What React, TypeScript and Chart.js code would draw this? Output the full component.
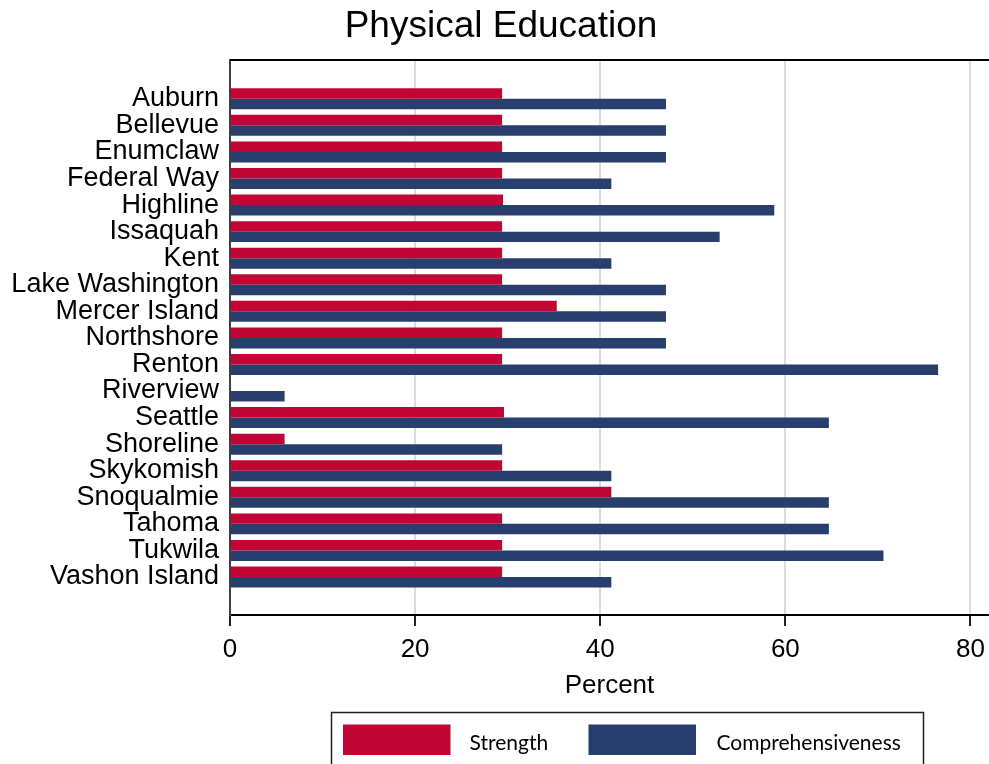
import React, { useEffect, useRef } from "react";
import { Chart, registerables } from "chart.js";

Chart.register(...registerables);

const categories = [
  "Auburn",
  "Bellevue",
  "Enumclaw",
  "Federal Way",
  "Highline",
  "Issaquah",
  "Kent",
  "Lake Washington",
  "Mercer Island",
  "Northshore",
  "Renton",
  "Riverview",
  "Seattle",
  "Shoreline",
  "Skykomish",
  "Snoqualmie",
  "Tahoma",
  "Tukwila",
  "Vashon Island",
];

const strength = [29.4, 29.4, 29.4, 29.4, 29.5, 29.4, 29.4, 29.4, 35.3, 29.4, 29.4, 0, 29.6, 5.9, 29.4, 41.2, 29.4, 29.4, 29.4];
const comprehensiveness = [47.1, 47.1, 47.1, 41.2, 58.8, 52.9, 41.2, 47.1, 47.1, 47.1, 76.5, 5.9, 64.7, 29.4, 41.2, 64.7, 64.7, 70.6, 41.2];

const xTicks = [0, 20, 40, 60, 80];
const seriesNames = ["Strength", "Comprehensiveness"];
const titleText = "Physical Education";
const xTitle = "Percent";

const RED = "#C10534";
const BLUE = "#283F6E";
const FONT = "'Liberation Sans', Arial, sans-serif";

const decorPlugin = {
  id: "decor",
  afterDraw(chart: any) {
    const { ctx, chartArea } = chart;
    ctx.save();
    // top border of plot
    ctx.strokeStyle = "#000";
    ctx.lineWidth = 2;
    ctx.beginPath();
    ctx.moveTo(chartArea.left, chartArea.top);
    ctx.lineTo(chartArea.right, chartArea.top);
    ctx.stroke();

    // title
    ctx.fillStyle = "#000";
    ctx.font = `37px ${FONT}`;
    ctx.textAlign = "center";
    ctx.textBaseline = "middle";
    ctx.fillText(titleText, 501, 27);

    // legend box
    ctx.strokeStyle = "#222";
    ctx.lineWidth = 1.5;
    ctx.strokeRect(331.5, 712.5, 592, 70);
    const colors = [RED, BLUE];
    const swX = [343, 588.5];
    const txX = [469.5, 716.5];
    ctx.font = `21px Lato, 'Open Sans', sans-serif`;
    ctx.textAlign = "left";
    ctx.textBaseline = "alphabetic";
    for (let i = 0; i < 2; i++) {
      ctx.fillStyle = colors[i];
      ctx.fillRect(swX[i], 724.5, 107.5, 30.5);
      ctx.fillStyle = "#000";
      ctx.fillText(seriesNames[i], txX[i], 749.5);
    }
    ctx.restore();
  },
};

export default function App() {
  const canvasRef = useRef<HTMLCanvasElement | null>(null);

  useEffect(() => {
    if (!canvasRef.current) return;
    const chart = new Chart(canvasRef.current, {
      type: "bar",
      data: {
        labels: categories.map((_, i) => i),
        datasets: [
          {
            label: seriesNames[0],
            data: strength,
            backgroundColor: RED,
            borderWidth: 0,
            categoryPercentage: 0.79,
            barPercentage: 1.0,
          },
          {
            label: seriesNames[1],
            data: comprehensiveness,
            backgroundColor: BLUE,
            borderWidth: 0,
            categoryPercentage: 0.79,
            barPercentage: 1.0,
          },
        ],
      },
      options: {
        indexAxis: "y",
        responsive: false,
        animation: false,
        layout: { padding: { top: 60, left: 0, right: 0, bottom: 61 } },
        plugins: {
          legend: { display: false },
          title: { display: false },
          tooltip: { enabled: false },
        },
        scales: {
          x: {
            type: "linear",
            min: 0,
            max: 82,
            afterBuildTicks: (scale: any) => {
              scale.ticks = xTicks.map((v) => ({ value: v }));
            },
            afterFit: (scale: any) => {
              scale.height = 88;
              scale.paddingRight = 0;
              scale.paddingLeft = 0;
            },
            grid: {
              color: "#DCDCDC",
              lineWidth: 2,
              drawTicks: true,
              tickLength: 11,
              tickColor: "#222",
              tickWidth: 2,
            },
            border: { display: true, color: "#000", width: 2 },
            ticks: {
              color: "#000",
              font: { family: FONT, size: 26 },
              padding: 8,
              maxRotation: 0,
            },
            title: {
              display: true,
              text: xTitle,
              color: "#000",
              font: { family: FONT, size: 26 },
              padding: { top: 4, bottom: 2 },
            },
          },
          y: {
            type: "linear",
            reverse: true,
            min: -1.46,
            max: 19.43,
            offset: false,
            afterBuildTicks: (scale: any) => {
              scale.ticks = categories.map((_, i) => ({ value: i }));
            },
            afterFit: (scale: any) => {
              scale.width = 230;
            },
            grid: { display: false, drawTicks: false, offset: false },
            border: { display: true, color: "#404040", width: 2 },
            ticks: {
              color: "#000",
              font: { family: FONT, size: 27 },
              padding: 11,
              autoSkip: false,
              callback: (v: any) => categories[v] ?? "",
            },
          },
        },
      },
      plugins: [decorPlugin],
    });
    return () => chart.destroy();
  }, []);

  return (
    <div style={{ position: "absolute", left: 0, top: 0, width: 989, height: 764, background: "#fff" }}>
      <canvas ref={canvasRef} width={989} height={764} style={{ display: "block" }} />
    </div>
  );
}
